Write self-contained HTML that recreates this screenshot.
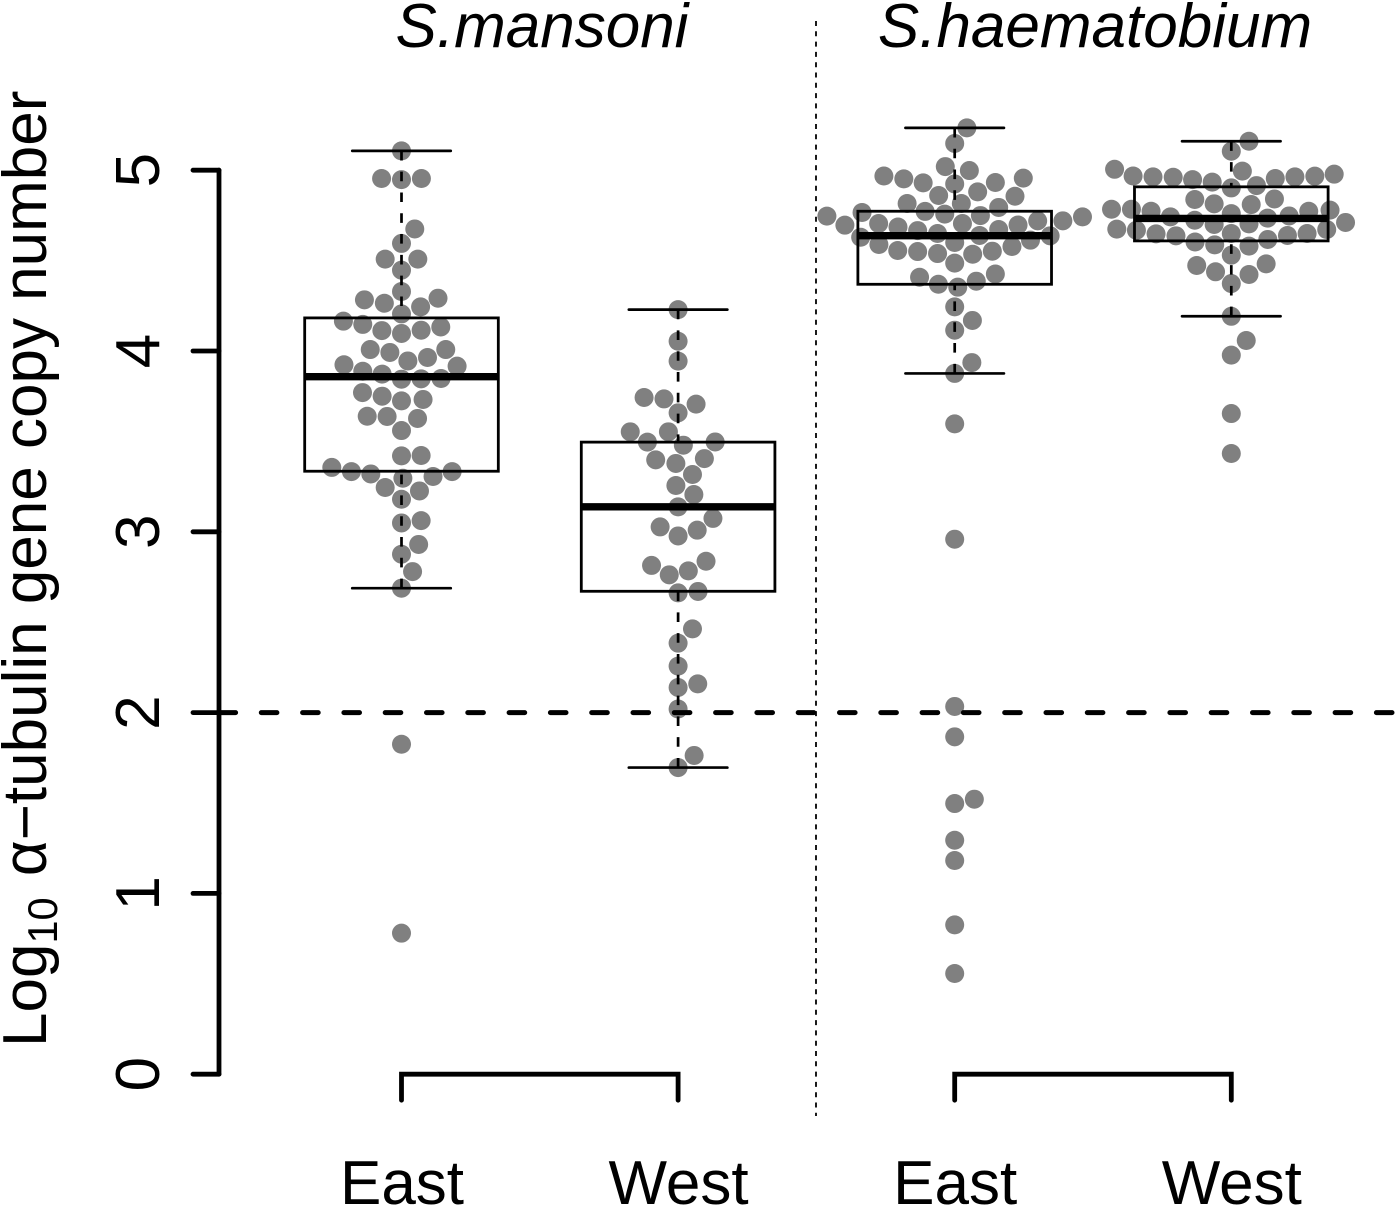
<!DOCTYPE html>
<html lang="en">
<head>
<meta charset="utf-8">
<title>Log10 alpha-tubulin gene copy number by region</title>
<style>
html,body{margin:0;padding:0;background:#fff;}
svg{display:block;}
text{font-family:"Liberation Sans",Arial,sans-serif;fill:#000;}
</style>
</head>
<body>
<svg id="chart" xmlns="http://www.w3.org/2000/svg" width="1400" height="1207" viewBox="0 0 1400 1207">
  <rect x="0" y="0" width="1400" height="1207" fill="#ffffff"/>
  <g id="points"></g>
  <g id="boxes"></g>
  <g id="axes"></g>
  <line id="threshold" y1="0" y2="0" x1="220" x2="1400" stroke="#000" stroke-width="5" stroke-linecap="round" stroke-dasharray="15.6 25.7"></line>
  <line x1="816" x2="816" y1="21" y2="1116" stroke="#000" stroke-width="1.8" stroke-dasharray="5 5.3"></line>
  <text x="542" y="47" font-size="62" font-style="italic" text-anchor="middle">S.mansoni</text>
  <text x="1095" y="47" font-size="62" font-style="italic" text-anchor="middle">S.haematobium</text>
  <text transform="translate(46,1047) rotate(-90)" font-size="62">Log<tspan font-size="41.5" dy="11">10</tspan><tspan dy="-11" dx="4"> α−tubulin gene copy number</tspan></text>
</svg>
<script>
// ---- axis data ----
const yTicks = [0, 1, 2, 3, 4, 5];
const thresholdValue = 2;
const categories = ["East", "West", "East", "West"];
const brackets = [[0, 1], [2, 3]];

// ---- box statistics per group ----
const boxLow = [2.688, 1.696, 3.876, 4.192];
const boxQ1 = [3.335, 2.671, 4.369, 4.609];
const boxMedian = [3.858, 3.138, 4.638, 4.733];
const boxQ3 = [4.183, 3.496, 4.773, 4.908];
const boxHigh = [5.107, 4.229, 5.234, 5.160];

// ---- S. mansoni East ----
const mansoniEastValues = [5.107,4.954,4.948,4.954,4.675,4.595,4.508,4.508,4.447,4.329,4.283,4.264,4.292,4.244,4.205,4.165,4.147,4.113,4.097,4.115,4.133,4.008,3.992,4.008,3.945,3.964,3.924,3.888,3.872,3.916,3.844,3.846,3.848,3.770,3.750,3.724,3.732,3.639,3.638,3.627,3.560,3.420,3.422,3.356,3.333,3.320,3.333,3.306,3.296,3.245,3.226,3.180,3.049,3.062,2.930,2.876,2.780,2.688,1.825,0.780];
const mansoniEastSwarm = [0,-.072,0,.072,.048,0,-.059,.059,0,0,-.134,-.062,.132,.069,0,-.210,-.140,-.071,0,.071,.142,-.113,-.042,.160,.023,.094,-.208,-.140,-.070,.201,0,.071,.143,-.141,-.070,0,.078,-.124,-.052,.058,0,0,.071,-.252,-.181,-.111,.183,.114,.005,-.059,.065,0,0,.071,.062,0,.040,0,0,0];

// ---- S. mansoni West ----
const mansoniWestValues = [4.229,4.054,3.944,3.743,3.735,3.706,3.658,3.553,3.553,3.496,3.479,3.497,3.398,3.378,3.405,3.317,3.256,3.206,3.138,3.074,3.027,2.977,3.009,2.814,2.762,2.784,2.837,2.662,2.670,2.463,2.384,2.257,2.139,2.159,2.020,1.763,1.696];
const mansoniWestSwarm = [0,0,0,-.123,-.051,.065,0,-.173,-.035,-.111,.019,.134,-.081,-.008,.095,.052,-.008,.057,0,.126,-.065,0,.069,-.096,-.032,.037,.101,0,.072,.052,0,0,0,.071,0,.058,0];

// ---- S. haematobium East ----
const haemEastValues = [5.234,5.148,5.020,4.998,4.968,4.952,4.930,4.924,4.932,4.956,4.860,4.880,4.856,4.816,4.816,4.794,4.772,4.757,4.749,4.766,4.746,4.742,4.720,4.720,4.696,4.705,4.686,4.705,4.697,4.666,4.650,4.672,4.639,4.629,4.637,4.613,4.589,4.578,4.600,4.556,4.550,4.539,4.535,4.552,4.486,4.408,4.369,4.353,4.386,4.426,4.244,4.169,4.115,3.936,3.876,3.597,2.959,2.034,1.866,1.497,1.521,1.294,1.182,0.826,0.557];
const haemEastSwarm = [.044,0,-.034,.053,-.256,-.184,-.114,0,.147,.248,-.058,.083,.218,-.172,.024,.159,-.107,-.036,.093,-.335,-.462,.462,.391,.300,-.397,-.275,-.205,.028,.229,-.134,-.062,.159,.090,-.340,.345,.274,-.274,.207,0,-.206,-.134,-.062,.065,.136,0,-.127,-.059,.011,.078,.147,0,.064,0,.062,0,0,0,0,0,0,.071,0,0,0,0];

// ---- S. haematobium West ----
const haemWestValues = [5.160,5.105,4.995,5.005,4.968,4.963,4.961,4.948,4.934,4.902,4.915,4.954,4.963,4.967,4.978,4.838,4.814,4.810,4.841,4.784,4.784,4.773,4.773,4.779,4.760,4.742,4.747,4.735,4.723,4.700,4.703,4.711,4.674,4.668,4.648,4.637,4.650,4.672,4.650,4.639,4.617,4.603,4.587,4.580,4.530,4.473,4.438,4.423,4.482,4.373,4.192,4.058,3.977,3.654,3.433];
const haemWestSwarm = [.064,0,.040,-.422,-.355,-.283,-.210,-.140,-.069,0,.091,.159,.230,.302,.372,-.132,-.062,.072,.156,-.433,-.361,-.290,.280,.357,0,-.220,.209,.131,-.132,-.062,.064,.413,-.414,-.343,-.272,-.200,0,.345,.274,.203,.132,-.131,-.060,.064,0,-.125,-.057,.064,.126,0,0,.054,0,0,0];

const groupValues = [mansoniEastValues, mansoniWestValues, haemEastValues, haemWestValues];
const groupSwarm = [mansoniEastSwarm, mansoniWestSwarm, haemEastSwarm, haemWestSwarm];
const groupKeys = ["mansoni-east", "mansoni-west", "haematobium-east", "haematobium-west"];

// ---- axis functions ----
function yScale(v) { return 1074.2 - 180.8 * v; }
function xScale(c) { return 401.5 + 276.6 * c; }

const NS = "http://www.w3.org/2000/svg";
function make(tag, attrs, parent) {
  const el = document.createElementNS(NS, tag);
  for (const k in attrs) el.setAttribute(k, attrs[k]);
  parent.appendChild(el);
  return el;
}

const pointsLayer = document.getElementById("points");
const boxesLayer = document.getElementById("boxes");
const axesLayer = document.getElementById("axes");

// swarm points
groupValues.forEach(function (values, g) {
  values.forEach(function (v, i) {
    const c = make("circle", { cx: xScale(g + groupSwarm[g][i]), cy: yScale(v), r: 9.5, fill: "#808080" }, pointsLayer);
    
    
  });
});

// box plots
const boxHalf = 0.35;
const capHalf = 0.178;
categories.forEach(function (name, g) {
  const cx = xScale(g);
  const gEl = make("g", {}, boxesLayer);
  
  

  const upper = make("line", { x1: cx, x2: cx, y1: yScale(boxHigh[g]), y2: yScale(boxQ3[g]), stroke: "#000", "stroke-width": 2.7, "stroke-dasharray": "9.6 11.2" }, gEl);
  
  

  const lower = make("line", { x1: cx, x2: cx, y1: yScale(boxLow[g]), y2: yScale(boxQ1[g]), stroke: "#000", "stroke-width": 2.7, "stroke-dasharray": "9.6 11.2" }, gEl);
  
  

  const capTop = make("line", { x1: xScale(g - capHalf), x2: xScale(g + capHalf), y1: yScale(boxHigh[g]), y2: yScale(boxHigh[g]), stroke: "#000", "stroke-width": 2.7, "stroke-linecap": "round" }, gEl);
  
  

  const capBottom = make("line", { x1: xScale(g - capHalf), x2: xScale(g + capHalf), y1: yScale(boxLow[g]), y2: yScale(boxLow[g]), stroke: "#000", "stroke-width": 2.7, "stroke-linecap": "round" }, gEl);
  
  

  const rect = make("rect", { x: xScale(g - boxHalf), width: xScale(g + boxHalf) - xScale(g - boxHalf), y: yScale(boxQ3[g]), height: yScale(boxQ1[g]) - yScale(boxQ3[g]), fill: "none", stroke: "#000", "stroke-width": 2.8 }, gEl);
  
  

  const med = make("line", { x1: xScale(g - boxHalf), x2: xScale(g + boxHalf), y1: yScale(boxMedian[g]), y2: yScale(boxMedian[g]), stroke: "#000", "stroke-width": 7.4 }, gEl);
  
  
});

// y axis
const yAxisLine = make("line", { x1: 219, x2: 219, y1: yScale(yTicks[0]), y2: yScale(yTicks[yTicks.length - 1]), stroke: "#000", "stroke-width": 4.8, "stroke-linecap": "round" }, axesLayer);



yTicks.forEach(function (t) {
  const tick = make("line", { x1: 193, x2: 219, y1: yScale(t), y2: yScale(t), stroke: "#000", "stroke-width": 4.8, "stroke-linecap": "round" }, axesLayer);
  
  
  const label = make("text", { transform: "translate(159," + yScale(t) + ") rotate(-90)", "font-size": 62, "text-anchor": "middle" }, axesLayer);
  label.textContent = String(t);
  
  
});

// bottom brackets
brackets.forEach(function (b) {
  const x1 = xScale(b[0]), x2 = xScale(b[1]), y0 = yScale(0);
  const path = make("path", { d: "M" + x1 + " " + (y0 + 26) + "V" + y0 + "H" + x2 + "V" + (y0 + 26), fill: "none", stroke: "#000", "stroke-width": 4.8, "stroke-linecap": "round", "stroke-linejoin": "miter" }, axesLayer);
  
  
});

categories.forEach(function (name, g) {
  const label = make("text", { x: xScale(g) + 0.5, y: 1204, "font-size": 62, "text-anchor": "middle" }, axesLayer);
  label.textContent = name;
  
  
});

// threshold
const threshold = document.getElementById("threshold");
threshold.setAttribute("y1", yScale(thresholdValue));
threshold.setAttribute("y2", yScale(thresholdValue));
</script>
</body>
</html>
